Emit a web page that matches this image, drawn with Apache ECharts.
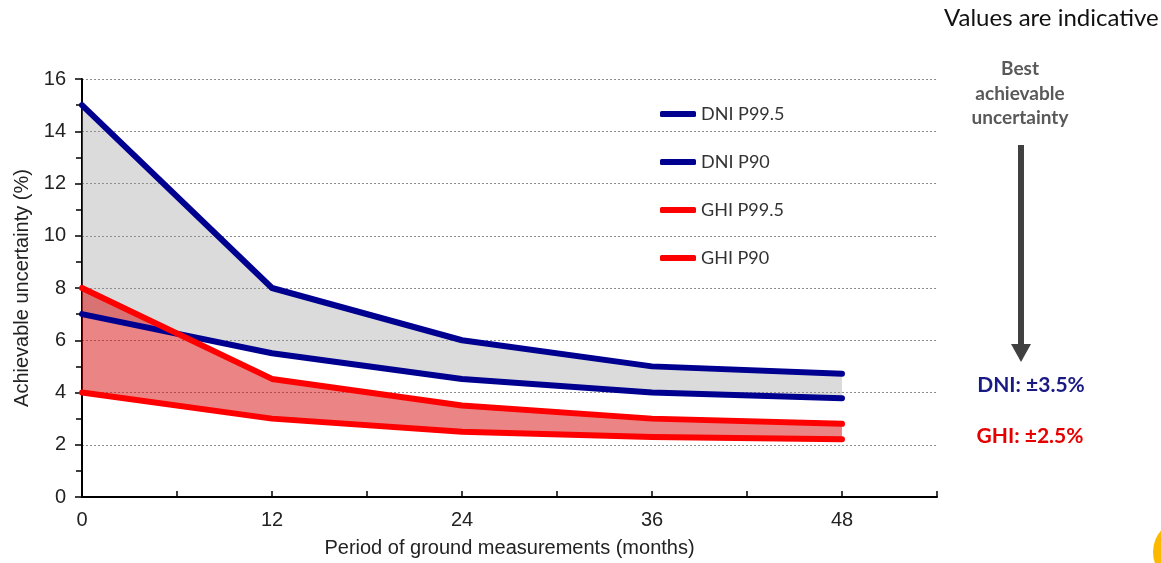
<!DOCTYPE html>
<html>
<head>
<meta charset="utf-8">
<script src="https://cdn.jsdelivr.net/npm/echarts@6/dist/echarts.min.js"></script>
<style>html,body{margin:0;padding:0;background:#fff}#c{width:1161px;height:563px}</style>
</head>
<body>
<div id="c"></div>
<script>
const months = [0, 12, 24, 36, 48];
const dniP995 = [15, 8, 6, 5, 4.72];
const dniP90 = [7, 5.5, 4.52, 4, 3.78];
const ghiP995 = [8, 4.52, 3.5, 3, 2.8];
const ghiP90 = [4, 3, 2.5, 2.3, 2.21];
const yTicks = [0, 2, 4, 6, 8, 10, 12, 14, 16];
const xTickLabels = ['0', '12', '24', '36', '48'];

const NAVY = '#000090';
const RED = '#ff0000';

const pts = arr => months.map((m, i) => [m, arr[i]]);

const chart = echarts.init(document.getElementById('c'));
const lineBase = (name, arr, color, z) => ({
  name, type: 'line', data: pts(arr), symbol: 'none', z,
  lineStyle: { color, width: 6, cap: 'round', join: 'round' },
  itemStyle: { color }
});

// band between two series, drawn through the chart's own coordinate system
const band = (name, upper, lower, fill, z) => ({
  name, type: 'custom', z, silent: true,
  coordinateSystem: 'cartesian2d',
  data: [[months[0], lower[0]]],
  renderItem: (params, api) => {
    const top = months.map((m, i) => api.coord([m, upper[i]]));
    const bot = months.map((m, i) => api.coord([m, lower[i]])).reverse();
    return { type: 'polygon', shape: { points: top.concat(bot) }, style: { fill } };
  }
});

const FONT = 'Liberation Sans';

chart.setOption({
  animation: false,
  grid: { left: 82, right: 224, top: 79, bottom: 64 },
  legend: {
    orient: 'vertical', left: 655, top: 100,
    icon: 'roundRect', itemWidth: 36, itemHeight: 6, itemGap: 30,
    textStyle: { fontFamily: 'Lato', fontSize: 18, color: '#333', lineHeight: 18 },
    data: ['DNI P99.5', 'DNI P90', 'GHI P99.5', 'GHI P90']
  },
  xAxis: {
    type: 'value', min: 0, max: 54, interval: 6,
    name: 'Period of ground measurements (months)',
    nameLocation: 'middle', nameGap: 41,
    nameTextStyle: { fontFamily: FONT, fontSize: 20, color: '#222' },
    axisLine: { lineStyle: { color: '#000', width: 2 } },
    axisTick: { inside: true, length: 6, lineStyle: { color: '#000', width: 1.5 } },
    axisLabel: {
      fontFamily: FONT, fontSize: 20, color: '#222', margin: 13,
      formatter: v => { const i = months.indexOf(v); return i >= 0 ? xTickLabels[i] : ''; }
    },
    splitLine: { show: false }
  },
  yAxis: {
    type: 'value', min: 0, max: 16, interval: 2,
    name: 'Achievable uncertainty (%)',
    nameLocation: 'middle', nameGap: 50,
    nameTextStyle: { fontFamily: FONT, fontSize: 20, color: '#222' },
    axisLine: { show: true, lineStyle: { color: '#000', width: 2 } },
    axisTick: { show: true, length: 7, lineStyle: { color: '#000', width: 1.5 } },
    minorTick: { show: true, splitNumber: 2, length: 6, lineStyle: { color: '#000', width: 1.5 } },
    axisLabel: {
      fontFamily: FONT, fontSize: 20, color: '#222', margin: 16,
      formatter: v => { const i = yTicks.indexOf(v); return i >= 0 ? String(yTicks[i]) : ''; }
    },
    splitLine: { show: true, lineStyle: { color: '#8c8c8c', type: [2, 2], width: 1 } }
  },
  series: [
    band('dniBand', dniP995, dniP90, 'rgba(150,150,150,0.34)', 1),
    band('ghiBand', ghiP995, ghiP90, 'rgba(215,10,10,0.5)', 2),
    lineBase('DNI P99.5', dniP995, NAVY, 3),
    lineBase('DNI P90', dniP90, NAVY, 3),
    lineBase('GHI P99.5', ghiP995, RED, 4),
    lineBase('GHI P90', ghiP90, RED, 4)
  ],
  graphic: [
    { type: 'text', left: 944, top: 6, style: { text: 'Values are indicative', font: '24px Lato', fill: '#111' } },
    { type: 'text', x: 1020, y: 57, style: { text: 'Best\nachievable\nuncertainty', font: 'bold 19px Lato', fill: '#595959', align: 'center', lineHeight: 24.5 } },
    { type: 'line', shape: { x1: 1021, y1: 145, x2: 1021, y2: 346 }, style: { stroke: '#404040', lineWidth: 6 } },
    { type: 'polygon', shape: { points: [[1011, 344], [1031, 344], [1021, 362]] }, style: { fill: '#404040' } },
    { type: 'text', x: 1031, y: 385, style: { text: 'DNI: ±3.5%', font: 'bold 21px Lato', fill: '#1a1a85', align: 'center', verticalAlign: 'middle' } },
    { type: 'text', x: 1030, y: 436, style: { text: 'GHI: ±2.5%', font: 'bold 21px Lato', fill: '#e60000', align: 'center', verticalAlign: 'middle' } },
    { type: 'circle', shape: { cx: 1186, cy: 552, r: 33 }, style: { fill: '#fbb900' } }
  ]
});
</script>
</body>
</html>
